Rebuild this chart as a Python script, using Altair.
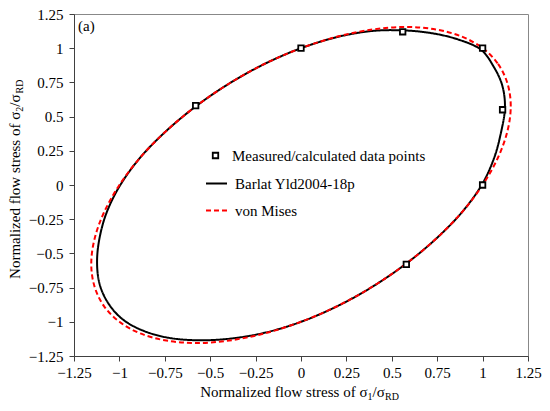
import altair as alt
import pandas as pd

FONT = "Liberation Serif"

# Measured / calculated data points
pt_x = [-0.58, 0.0, 0.56, 1.0, 1.11, 1.0, 0.58]
pt_y = [0.58, 1.0, 1.12, 1.0, 0.55, 0.0, -0.58]

# von Mises yield locus
vm_x = [1.0, 1.085, 1.137, 1.155, 1.137, 1.085, 1.0, 0.885, 0.742, 0.577, 0.395, 0.201,
        0.0, -0.201, -0.395, -0.577, -0.742, -0.885, -1.0, -1.085, -1.137, -1.155, -1.137, -1.085,
        -1.0, -0.885, -0.742, -0.577, -0.395, -0.201, 0.0, 0.201, 0.395, 0.577, 0.742, 0.885]
vm_y = [1.0, 0.885, 0.742, 0.577, 0.395, 0.201, 0.0, -0.201, -0.395, -0.577, -0.742, -0.885,
        -1.0, -1.085, -1.137, -1.155, -1.137, -1.085, -1.0, -0.885, -0.742, -0.577, -0.395, -0.201,
        0.0, 0.201, 0.395, 0.577, 0.742, 0.885, 1.0, 1.085, 1.137, 1.155, 1.137, 1.085]

# Barlat Yld2004-18p yield locus
bl_x = [0.99, 1.061, 1.109, 1.123, 1.101, 1.063, 0.995, 0.885, 0.742, 0.577, 0.395, 0.201,
        0.0, -0.200, -0.390, -0.568, -0.729, -0.869, -0.982, -1.061, -1.109, -1.123, -1.109, -1.069,
        -0.995, -0.885, -0.742, -0.577, -0.395, -0.201, 0.0, 0.200, 0.391, 0.565, 0.724, 0.867]
bl_y = [0.99, 0.865, 0.724, 0.561, 0.382, 0.196, 0.0, -0.201, -0.395, -0.577, -0.742, -0.885,
        -1.0, -1.080, -1.123, -1.135, -1.117, -1.065, -0.982, -0.865, -0.724, -0.561, -0.385, -0.197,
        0.0, 0.201, 0.395, 0.577, 0.742, 0.885, 1.0, 1.082, 1.126, 1.130, 1.109, 1.063]

tick_vals = [-1.25, -1.0, -0.75, -0.5, -0.25, 0.0, 0.25, 0.5, 0.75, 1.0, 1.25]

SERIES = ["Barlat Yld2004-18p", "von Mises"]
PT_LABEL = "Measured/calculated data points"

curves = pd.concat([
    pd.DataFrame({"x": bl_x, "y": bl_y, "i": list(range(len(bl_x))), "series": SERIES[0]}),
    pd.DataFrame({"x": vm_x, "y": vm_y, "i": list(range(len(vm_x))), "series": SERIES[1]}),
], ignore_index=True)
pts = pd.DataFrame({"x": pt_x, "y": pt_y, "kind": PT_LABEL})

xs = alt.Scale(domain=[-1.25, 1.25], nice=False, zero=False)
ys = alt.Scale(domain=[-1.25, 1.25], nice=False, zero=False)

AX_COL = "#404040"
common_axis = dict(values=tick_vals, format=".2~f", grid=False, tickSize=5,
                   labelFont=FONT, labelFontSize=15, labelColor="black",
                   labelOverlap=False, labelFlush=False,
                   domainColor=AX_COL, tickColor=AX_COL, title=None)
xaxis = alt.Axis(labelPadding=4, **common_axis)
yaxis = alt.Axis(labelPadding=6, **common_axis)


def X():
    return alt.X("x:Q", scale=xs, axis=xaxis)


def Y():
    return alt.Y("y:Q", scale=ys, axis=yaxis)


line_legend = alt.Legend(orient="none", legendX=131, legendY=158, title=None,
                         symbolType="stroke", symbolSize=441, symbolStrokeWidth=2,
                         labelFont=FONT, labelFontSize=15, labelColor="black",
                         labelOffset=7, rowPadding=7, padding=0, labelLimit=400)

lines = alt.Chart(curves).mark_line(strokeWidth=2, interpolate="cardinal-closed").encode(
    x=X(), y=Y(),
    order=alt.Order("i:Q"),
    color=alt.Color("series:N", scale=alt.Scale(domain=SERIES, range=["black", "#ff0000"]),
                    legend=line_legend),
    strokeDash=alt.StrokeDash("series:N", scale=alt.Scale(domain=SERIES, range=[[1, 0], [5, 3]]),
                              legend=line_legend),
)

points_fill = alt.Chart(pts).mark_point(shape="square", size=30, filled=True, color="white",
                                        opacity=1).encode(x=X(), y=Y())

points = alt.Chart(pts).mark_point(shape="square", size=30, filled=False, color="black",
                                   strokeWidth=1.8, opacity=1).encode(
    x=X(), y=Y(),
    shape=alt.Shape("kind:N", scale=alt.Scale(domain=[PT_LABEL], range=["square"]),
                    legend=alt.Legend(orient="none", legendX=134, legendY=134, title=None,
                                      symbolSize=30, symbolStrokeWidth=1.8,
                                      symbolStrokeColor="black",
                                      labelFont=FONT, labelFontSize=15, labelColor="black",
                                      labelOffset=9, padding=0, labelLimit=400)),
)


def txt(s, x, y, size=15, align="left", angle=0, baseline="alphabetic"):
    return alt.Chart(pd.DataFrame({"t": [s]})).mark_text(
        font=FONT, fontSize=size, align=align, angle=angle, baseline=baseline, color="black"
    ).encode(text="t:N", x=alt.value(x), y=alt.value(y))


texts = [
    # x-axis title
    txt("Normalized flow stress of σ", 293.5, 383, align="right"),
    txt("1", 293.5, 386, size=10),
    txt("/σ", 298.5, 383),
    txt("RD", 311, 386, size=10),
    # y-axis title (rotated)
    txt("Normalized flow stress of σ", -54, 97.7, align="right", angle=270),
    txt("2", -51, 97.7, size=10, angle=270),
    txt("/σ", -54, 92.7, angle=270),
    txt("RD", -51, 79.5, size=10, angle=270),
    # panel label
    txt("(a)", 4, 12, baseline="middle"),
]

chart = alt.layer(lines, points_fill, points, *texts).properties(
    width=454, height=342,
    autosize=alt.AutoSizeParams(type="none"),
    padding={"left": 66, "top": 6, "right": 14, "bottom": 47},
).configure_view(stroke="#888888", strokeWidth=1)

chart.save("out.html", embed_options={"renderer": "svg", "actions": False})
